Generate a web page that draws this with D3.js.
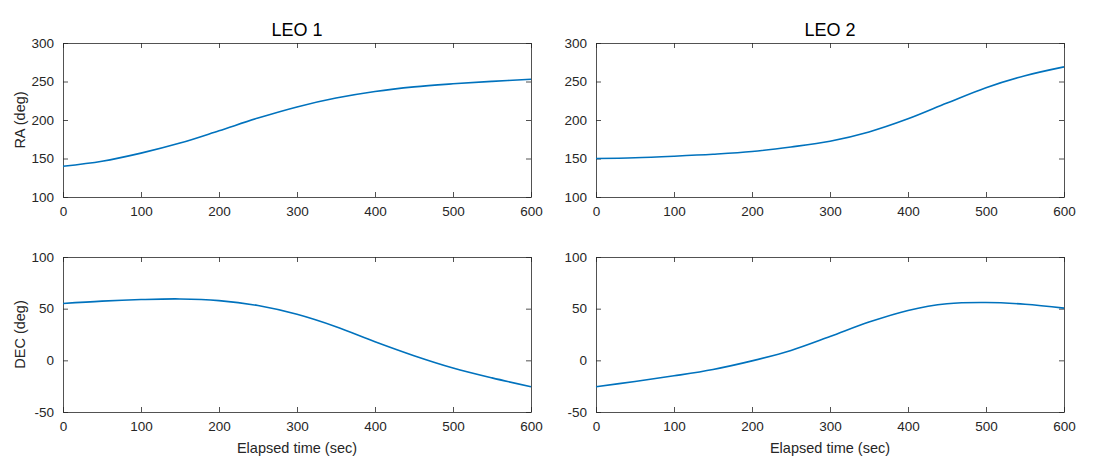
<!DOCTYPE html>
<html><head><meta charset="utf-8">
<script src="https://cdn.jsdelivr.net/npm/d3@7"></script>
<style>body{margin:0;background:#fff}svg{display:block}text{font-family:"Liberation Sans",Arial,sans-serif}</style>
</head><body><svg id="c" width="1097" height="475"></svg>
<script>
const times = [0,50,100,150,200,250,300,350,400,450,500,550,600];
const leo1RA  = [140,146.5,157,170,186,202.5,217,228.5,237,243,247,250.2,253];
const leo2RA  = [150,151,153,155.5,159,165,172.5,184.5,201.5,222,242,257.5,269];
const leo1DEC = [55,57.3,58.8,59.4,57.8,53,44.5,32.5,18,4.5,-7.4,-17,-25.5];
const leo2DEC = [-25.5,-20.5,-15,-8.8,-0.5,9.6,23,37,48.3,54.8,56,54.3,50.5];
const titles = ["LEO 1","LEO 2"];
const xTicks = [0,100,200,300,400,500,600];
const raTicks = [100,150,200,250,300];
const decTicks = [-50,0,50,100];

const svg = d3.select("#c");
const cols = [{x0:63,x1:531},{x0:596,x1:1064}];
const rows = [{y0:43,y1:197,dom:[100,300],ticks:raTicks,label:"RA (deg)"},
              {y0:257,y1:412,dom:[-50,100],ticks:decTicks,label:"DEC (deg)"}];
const data = [[leo1RA,leo2RA],[leo1DEC,leo2DEC]];
const axisColor = "#262626";
const fmt = d => String(d);

rows.forEach((r,ri)=>{
  cols.forEach((c,ci)=>{
    const x = d3.scaleLinear().domain([0,600]).range([c.x0,c.x1]);
    const y = d3.scaleLinear().domain(r.dom).range([r.y1,r.y0]);
    const g = svg.append("g");
    const tl = 5;
    const ax = g.append("g").attr("transform",`translate(0,${r.y1})`)
      .call(d3.axisBottom(x).tickValues(xTicks).tickFormat(fmt).tickSize(-tl).tickPadding(9).tickSizeOuter(0));
    const axT = g.append("g").attr("transform",`translate(0,${r.y0})`)
      .call(d3.axisTop(x).tickValues(xTicks).tickSize(-tl).tickFormat("").tickSizeOuter(0));
    const ay = g.append("g").attr("transform",`translate(${c.x0},0)`)
      .call(d3.axisLeft(y).tickValues(r.ticks).tickFormat(fmt).tickSize(-tl).tickPadding(9).tickSizeOuter(0));
    const ayR = g.append("g").attr("transform",`translate(${c.x1},0)`)
      .call(d3.axisRight(y).tickValues(r.ticks).tickSize(-tl).tickFormat("").tickSizeOuter(0));
    [ax,axT,ay,ayR].forEach(a=>{
      a.selectAll("path").attr("stroke",axisColor).attr("stroke-width",0.8);
      a.selectAll("line").attr("stroke",axisColor).attr("stroke-width",0.8);
      a.selectAll("text").attr("fill",axisColor).style("font-size","13.5px");
    });
    const line = d3.line().x((d,i)=>x(times[i])).y(d=>y(d)).curve(d3.curveCatmullRom.alpha(0.5));
    g.append("path").datum(data[ri][ci]).attr("d",line)
      .attr("fill","none").attr("stroke","#0072BD").attr("stroke-width",1.6);
    if(ri===0){
      g.append("text").attr("x",(c.x0+c.x1)/2).attr("y",r.y0-7).attr("text-anchor","middle")
        .attr("fill","#000").style("font-size","18px").text(titles[ci]);
    }
    if(ri===1){
      g.append("text").attr("x",(c.x0+c.x1)/2).attr("y",r.y1+41).attr("text-anchor","middle")
        .attr("fill",axisColor).style("font-size","14.5px").text("Elapsed time (sec)");
    }
    if(ci===0){
      g.append("text").attr("transform",`translate(25,${(r.y0+r.y1)/2}) rotate(-90)`)
        .attr("text-anchor","middle").attr("fill",axisColor).style("font-size","14.5px").text(r.label);
    }
  });
});
</script></body></html>
